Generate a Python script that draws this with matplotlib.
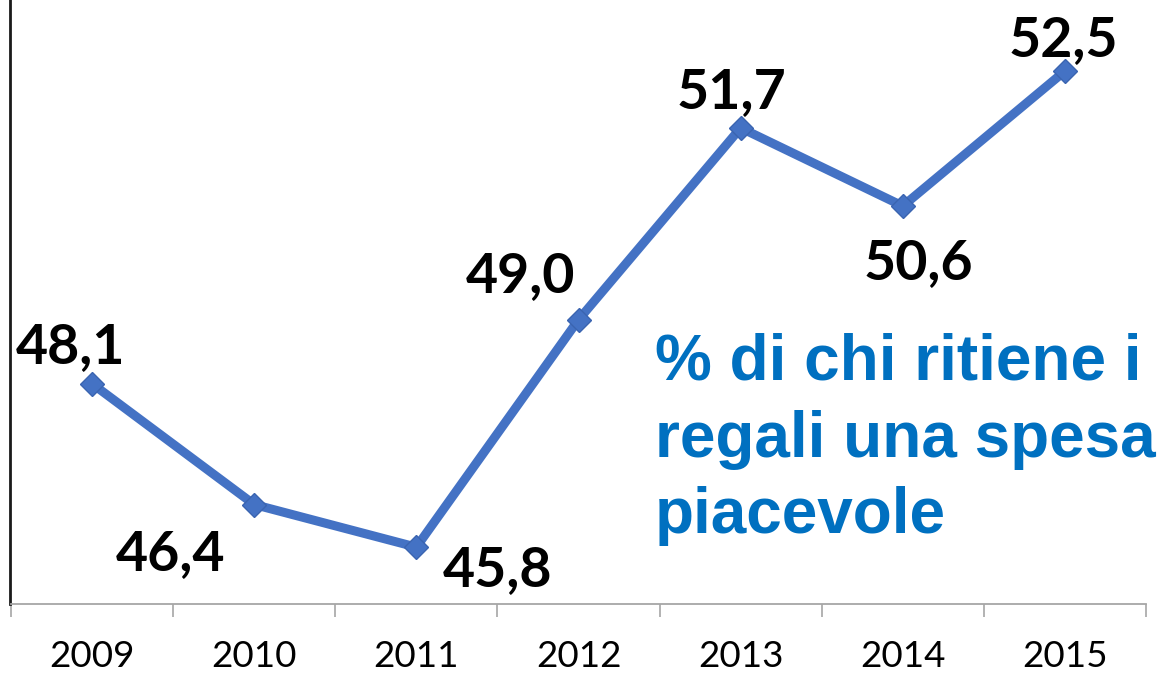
import matplotlib
matplotlib.use("Agg")
import matplotlib.pyplot as plt
import numpy as np

# data
years = ["2009", "2010", "2011", "2012", "2013", "2014", "2015"]
values = [48.1, 46.4, 45.8, 49.0, 51.7, 50.6, 52.5]
labels = ["48,1", "46,4", "45,8", "49,0", "51,7", "50,6", "52,5"]
title_lines = ["% di chi ritiene i", "regali una spesa", "piacevole"]

# label offsets from the point, in pixels (dx, dy up), baseline anchored
label_off_px = [(-22, 21), (-84, -65), (81, -39), (-58, 28), (-9, 20), (16, -73), (-2, 15)]

W, H = 1157, 676
DPI = 100
fig = plt.figure(figsize=(W / DPI, H / DPI), dpi=DPI)
ax = fig.add_axes([11 / W, 72 / H, 1135 / W, 604 / H])

x = np.arange(len(years))
line_color = "#4472C4"
ax.plot(x, values, color=line_color, linewidth=6.5, solid_capstyle="round",
        marker="D", markersize=12.5, markerfacecolor="#4472C4",
        markeredgecolor="#3A64B0", markeredgewidth=1, zorder=3)

for xi, v, lab, (dx, dy) in zip(x, values, labels, label_off_px):
    ax.annotate(lab, (xi, v), xytext=(dx * 0.72, dy * 0.72),
                textcoords="offset points", ha="center", va="baseline",
                fontsize=40, fontweight="bold", family="Lato", color="black")

ax.set_xlim(-0.5, len(years) - 0.5)
ax.set_ylim(45, 53.5)

ax.set_xticks(x)
ax.set_xticklabels(years, fontsize=26.5, family="Lato")
ax.set_xticks(np.arange(len(years) + 1) - 0.5, minor=True)
ax.tick_params(axis="x", which="major", length=0, pad=26)
ax.tick_params(axis="x", which="minor", length=9.5, width=1.2, color="#A6A6A6")
ax.set_yticks([])

for s in ["top", "right"]:
    ax.spines[s].set_visible(False)
ax.spines["bottom"].set_color("#A6A6A6")
ax.spines["bottom"].set_linewidth(1.3)
ax.spines["left"].set_color("#1a1a1a")
ax.spines["left"].set_linewidth(2)
ax.spines["left"].set_position(("outward", 1))

baselines = [380, 457, 533]
for line, b in zip(title_lines, baselines):
    fig.text(655 / W, 1 - b / H, line, ha="left", va="baseline",
             fontsize=46, fontweight="bold", family="Liberation Sans",
             color="#0070C0")

fig.savefig("out.png", dpi=DPI)
